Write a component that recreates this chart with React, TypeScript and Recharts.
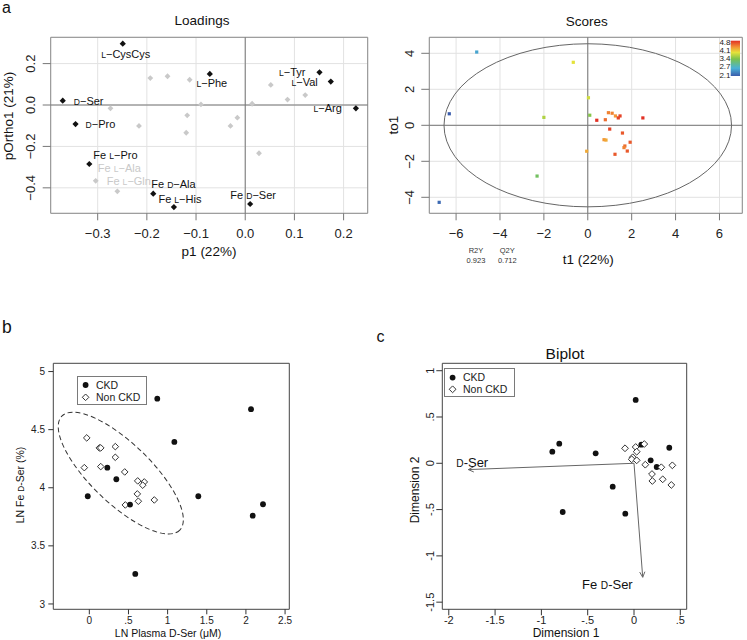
import React from "react";
import {
  ScatterChart,
  Scatter,
  XAxis,
  YAxis,
  CartesianGrid,
  ReferenceLine,
  ReferenceArea,
  ReferenceDot,
  Label,
  Legend,
} from "recharts";

const FONT = '"Liberation Sans", Arial, Helvetica, sans-serif';

// ---------- panel a, loadings ----------
const loadXTicks = [-0.3, -0.2, -0.1, 0, 0.1, 0.2];
const loadYTicks = [-0.4, -0.2, 0, 0.2];

const loadingsKey = [
  { name: "L-CysCys", p1: -0.249, po: 0.296 },
  { name: "L-Phe", p1: -0.072, po: 0.15 },
  { name: "L-Tyr", p1: 0.151, po: 0.158 },
  { name: "L-Val", p1: 0.174, po: 0.113 },
  { name: "L-Arg", p1: 0.225, po: -0.016 },
  { name: "D-Ser", p1: -0.371, po: 0.021 },
  { name: "D-Pro", p1: -0.345, po: -0.092 },
  { name: "Fe L-Pro", p1: -0.317, po: -0.285 },
  { name: "Fe D-Ala", p1: -0.187, po: -0.428 },
  { name: "Fe L-His", p1: -0.145, po: -0.493 },
  { name: "Fe D-Ser", p1: 0.01, po: -0.478 },
];

const loadingsOther = [
  { name: "", p1: -0.193, po: 0.13 },
  { name: "", p1: -0.158, po: 0.139 },
  { name: "", p1: -0.113, po: 0.122 },
  { name: "", p1: 0.052, po: 0.097 },
  { name: "", p1: 0.086, po: 0.026 },
  { name: "", p1: 0.122, po: 0.048 },
  { name: "", p1: 0.014, po: 0.006 },
  { name: "", p1: -0.09, po: 0.003 },
  { name: "", p1: -0.274, po: -0.016 },
  { name: "", p1: -0.118, po: -0.05 },
  { name: "", p1: -0.216, po: -0.101 },
  { name: "", p1: -0.12, po: -0.134 },
  { name: "", p1: -0.016, po: -0.061 },
  { name: "", p1: -0.03, po: -0.101 },
  { name: "", p1: 0.028, po: -0.233 },
  { name: "Fe L-Gln", p1: -0.304, po: -0.366 },
  { name: "Fe L-Ala", p1: -0.26, po: -0.417 },
];

// ---------- panel a, scores ----------
const scoreXTicks = [-6, -4, -2, 0, 2, 4, 6];
const scoreYTicks = [-4, -2, 0, 2, 4];
const colorbarTicks = [4.8, 4.1, 3.4, 2.7, 2.1];
const modelStats = [
  { label: "R2Y", value: "0.923" },
  { label: "Q2Y", value: "0.712" },
];
const scoreEllipse = { a: 6.55, b: 4.53 };

const scores = [
  { t1: -5.06, to1: 4.07, resp: 2.6 },
  { t1: -0.66, to1: 3.5, resp: 3.9 },
  { t1: -6.31, to1: 0.64, resp: 2.1 },
  { t1: -6.77, to1: -4.28, resp: 2.2 },
  { t1: -2.0, to1: 0.44, resp: 3.65 },
  { t1: -2.31, to1: -2.82, resp: 3.3 },
  { t1: 0.03, to1: 1.53, resp: 3.8 },
  { t1: 0.09, to1: 0.56, resp: 3.45 },
  { t1: -0.05, to1: -1.44, resp: 4.2 },
  { t1: 0.41, to1: 0.28, resp: 4.8 },
  { t1: 0.8, to1: 0.31, resp: 4.5 },
  { t1: 0.94, to1: 0.7, resp: 4.4 },
  { t1: 1.11, to1: 0.67, resp: 4.4 },
  { t1: 1.26, to1: 0.52, resp: 4.3 },
  { t1: 1.39, to1: 0.41, resp: 4.7 },
  { t1: 1.47, to1: 0.52, resp: 4.7 },
  { t1: 2.51, to1: 0.41, resp: 4.8 },
  { t1: 1.0, to1: -0.21, resp: 4.7 },
  { t1: 1.58, to1: -0.43, resp: 4.6 },
  { t1: 0.74, to1: -0.8, resp: 4.3 },
  { t1: 0.83, to1: -0.82, resp: 4.2 },
  { t1: 1.93, to1: -0.94, resp: 4.6 },
  { t1: 1.69, to1: -1.15, resp: 4.5 },
  { t1: 1.65, to1: -1.24, resp: 4.4 },
  { t1: 1.8, to1: -1.43, resp: 4.6 },
  { t1: 1.24, to1: -1.61, resp: 4.6 },
];

// ---------- panel b ----------
const bXTicks = [0, 0.5, 1, 1.5, 2, 2.5];
const bYTicks = [3, 3.5, 4, 4.5, 5];
const groups = ["CKD", "Non CKD"];

const ckdB = [
  { plasma: 0.868, fe: 4.767 },
  { plasma: 2.065, fe: 4.676 },
  { plasma: 1.086, fe: 4.394 },
  { plasma: 0.23, fe: 4.173 },
  { plasma: 0.345, fe: 4.073 },
  { plasma: -0.02, fe: 3.927 },
  { plasma: 0.52, fe: 3.855 },
  { plasma: 1.392, fe: 3.927 },
  { plasma: 2.218, fe: 3.858 },
  { plasma: 2.087, fe: 3.76 },
  { plasma: 0.587, fe: 3.258 },
];

const nonCkdB = [
  { plasma: -0.033, fe: 4.429 },
  { plasma: 0.128, fe: 4.343 },
  { plasma: 0.146, fe: 4.343 },
  { plasma: 0.332, fe: 4.354 },
  { plasma: 0.332, fe: 4.262 },
  { plasma: -0.064, fe: 4.173 },
  { plasma: 0.146, fe: 4.182 },
  { plasma: 0.452, fe: 4.136 },
  { plasma: 0.618, fe: 4.059 },
  { plasma: 0.702, fe: 4.05 },
  { plasma: 0.682, fe: 4.022 },
  { plasma: 0.613, fe: 3.947 },
  { plasma: 0.626, fe: 3.884 },
  { plasma: 0.83, fe: 3.895 },
  { plasma: 0.46, fe: 3.852 },
];

const bEllipseCenter = { plasma: 0.402, fe: 4.126 };

// ---------- panel c ----------
const cXTicks = [-2, -1.5, -1, -0.5, 0, 0.5];
const cYTicks = [-1.5, -1, -0.5, 0, 0.5, 1];

const ckdC = [
  { d1: 0.018, d2: 0.684 },
  { d1: -0.807, d2: 0.212 },
  { d1: -0.882, d2: 0.125 },
  { d1: -0.414, d2: 0.108 },
  { d1: 0.079, d2: 0.201 },
  { d1: 0.381, d2: 0.168 },
  { d1: 0.18, d2: 0.032 },
  { d1: 0.245, d2: -0.04 },
  { d1: -0.23, d2: -0.253 },
  { d1: -0.77, d2: -0.526 },
  { d1: -0.094, d2: -0.544 },
];

const nonCkdC = [
  { d1: -0.097, d2: 0.162 },
  { d1: 0.018, d2: 0.176 },
  { d1: 0.111, d2: 0.208 },
  { d1: 0.029, d2: 0.125 },
  { d1: -0.014, d2: 0.065 },
  { d1: -0.025, d2: 0.043 },
  { d1: 0.029, d2: 0.032 },
  { d1: 0.122, d2: -0.015 },
  { d1: 0.295, d2: -0.043 },
  { d1: 0.414, d2: -0.022 },
  { d1: 0.194, d2: -0.116 },
  { d1: 0.198, d2: -0.191 },
  { d1: 0.31, d2: -0.173 },
  { d1: 0.403, d2: -0.234 },
];

const biplotArrows = [
  { name: "D-Ser", d1: -1.789, d2: -0.068 },
  { name: "Fe D-Ser", d1: 0.094, d2: -1.231 },
];

// ---------- layout / style ----------
type Anchor = "start" | "middle" | "end";
const loadLabelPlace: Record<string, { anchor: Anchor; dx: number; dy: number }> = {
  "L-CysCys": { anchor: "middle", dx: 3, dy: 10 },
  "L-Phe": { anchor: "middle", dx: 2, dy: 9 },
  "L-Tyr": { anchor: "end", dx: -14, dy: 0 },
  "L-Val": { anchor: "end", dx: -13, dy: 0 },
  "L-Arg": { anchor: "end", dx: -14, dy: 0 },
  "D-Ser": { anchor: "start", dx: 11, dy: 0 },
  "D-Pro": { anchor: "start", dx: 10, dy: 0 },
  "Fe L-Pro": { anchor: "start", dx: 4, dy: -9 },
  "Fe D-Ala": { anchor: "start", dx: -2, dy: -10 },
  "Fe L-His": { anchor: "middle", dx: 6, dy: -8 },
  "Fe D-Ser": { anchor: "middle", dx: 3, dy: -9 },
  "Fe L-Gln": { anchor: "start", dx: 11, dy: 0 },
  "Fe L-Ala": { anchor: "middle", dx: 2, dy: -23 },
};
const arrowLabelPlace: Record<string, { anchor: Anchor; dx: number; dy: number }> = {
  "D-Ser": { anchor: "start", dx: -12, dy: -7.5 },
  "Fe D-Ser": { anchor: "end", dx: -10, dy: 7.5 },
};

const loadXDom: [number, number] = [-0.3955, 0.249];
const loadYDom: [number, number] = [-0.523, 0.327];
const scoreXDom: [number, number] = [-7.22, 7.04];
const scoreYDom: [number, number] = [-4.889, 4.889];
const bXDom: [number, number] = [-0.46, 2.554];
const bYDom: [number, number] = [2.954, 5.071];
const cXDom: [number, number] = [-2.07, 0.569];
const cYDom: [number, number] = [-1.577, 1.08];

const cbarStops = [
  { v: 2.1, c: [58, 92, 172] },
  { v: 2.7, c: [74, 178, 214] },
  { v: 3.4, c: [122, 194, 76] },
  { v: 3.9, c: [228, 226, 58] },
  { v: 4.3, c: [243, 150, 54] },
  { v: 4.8, c: [226, 48, 36] },
];

function colorFor(v: number) {
  const s = cbarStops;
  if (v <= s[0].v) return `rgb(${s[0].c.join(",")})`;
  for (let i = 1; i < s.length; i++) {
    if (v <= s[i].v) {
      const t = (v - s[i - 1].v) / (s[i].v - s[i - 1].v);
      const c = s[i].c.map((ch, k) => Math.round(s[i - 1].c[k] + (ch - s[i - 1].c[k]) * t));
      return `rgb(${c.join(",")})`;
    }
  }
  return `rgb(${s[s.length - 1].c.join(",")})`;
}

const rNum = (d: number) => (v: number) => (v < 0 ? "\u2212" : "") + Math.abs(v).toFixed(d);
const stataNum = (v: number) => {
  const a = Math.abs(v);
  const s = a > 0 && a < 1 ? String(a).replace(/^0/, "") : String(a);
  return (v < 0 ? "-" : "") + s;
};

function NameText({ text, fs, minus }: { text: string; fs: number; minus?: boolean }) {
  const fix = (s: string) => (minus ? s.replace(/-/g, "\u2212") : s);
  const m = text.match(/^(.*?)\b([LD])(-.*)$/);
  if (!m) return <>{fix(text)}</>;
  return (
    <>
      {m[1]}
      <tspan fontSize={fs * 0.78}>{m[2]}</tspan>
      {fix(m[3])}
    </>
  );
}

const diamond = (cx: number, cy: number, s: number) =>
  `M${cx},${cy - s}L${cx + s},${cy}L${cx},${cy + s}L${cx - s},${cy}Z`;

const xTick = (fmt: (v: number) => string, fs: number, dy: number) => (p: any) => (
  <text x={p.x} y={p.y + dy} textAnchor="middle" fontSize={fs} fill="#222" fontFamily={FONT}>
    {fmt(p.payload.value)}
  </text>
);
const yTickRot = (fmt: (v: number) => string, fs: number, dx: number) => (p: any) => {
  const x = p.x + dx;
  return (
    <text x={x} y={p.y} transform={`rotate(-90 ${x} ${p.y})`} textAnchor="middle" fontSize={fs} fill="#222" fontFamily={FONT}>
      {fmt(p.payload.value)}
    </text>
  );
};
const yTickFlat = (fmt: (v: number) => string, fs: number, dx: number) => (p: any) => (
  <text x={p.x + dx} y={p.y + fs * 0.36} textAnchor="end" fontSize={fs} fill="#222" fontFamily={FONT}>
    {fmt(p.payload.value)}
  </text>
);

const rotText = (x: number, y: number, fs: number, children: React.ReactNode) => (
  <text x={x} y={y} transform={`rotate(-90 ${x} ${y})`} textAnchor="middle" fontSize={fs} fill="#111" fontFamily={FONT}>
    {children}
  </text>
);

function loadingShape(dark: boolean) {
  const col = dark ? "#111" : "#c9c9c9";
  return (p: any) => {
    const { cx, cy, payload } = p;
    const place = payload.name ? loadLabelPlace[payload.name] : undefined;
    return (
      <g>
        <path d={diamond(cx, cy, dark ? 3.1 : 2.9)} fill={col} />
        {place && (
          <text x={cx + place.dx} y={cy + place.dy + 4} textAnchor={place.anchor} fontSize={11} fill={col} fontFamily={FONT}>
            <NameText text={payload.name} fs={11} minus />
          </text>
        )}
      </g>
    );
  };
}

function LoadingsChart() {
  return (
    <ScatterChart width={375} height={268} margin={{ top: 37.3, right: 7.3, bottom: 9.7, left: 0 }}>
      <CartesianGrid stroke="#e2e2e2" />
      <XAxis
        type="number"
        dataKey="p1"
        domain={loadXDom}
        ticks={loadXTicks}
        allowDataOverflow
        interval={0}
        height={45}
        axisLine={false}
        tickSize={7}
        tickLine={{ stroke: "#777" }}
        tick={xTick(rNum(1), 13, 15.7)}
      >
        <Label
          content={() => (
            <g fontFamily={FONT} fill="#111">
              <text x={202} y={25} textAnchor="middle" fontSize={13.5}>Loadings</text>
              <text x={209} y={256} textAnchor="middle" fontSize={13.5}>p1 (22%)</text>
            </g>
          )}
        />
      </XAxis>
      <YAxis
        type="number"
        dataKey="po"
        domain={loadYDom}
        ticks={loadYTicks}
        allowDataOverflow
        interval={0}
        width={50.7}
        axisLine={false}
        tickSize={8}
        tickLine={{ stroke: "#777" }}
        tick={yTickRot(rNum(1), 13, -6)}
      >
        <Label content={() => rotText(13, 116, 13.5, "pOrtho1 (21%)")} />
      </YAxis>
      <ReferenceLine x={0} stroke="#777" />
      <ReferenceLine y={0} stroke="#777" />
      <ReferenceArea x1={loadXDom[0]} x2={loadXDom[1]} y1={loadYDom[0]} y2={loadYDom[1]} fill="none" stroke="#8c8c8c" ifOverflow="visible" />
      <Scatter data={loadingsOther} shape={loadingShape(false)} isAnimationActive={false} />
      <Scatter data={loadingsKey} shape={loadingShape(true)} isAnimationActive={false} />
    </ScatterChart>
  );
}

function Colorbar() {
  const top = 2.7;
  const h = 35.3;
  return (
    <svg width={28} height={42} style={{ display: "block" }}>
      <defs>
        <linearGradient id="cbar" x1="0" y1="0" x2="0" y2="1">
          {[...cbarStops].reverse().map((s) => (
            <stop key={s.v} offset={`${((4.8 - s.v) / (4.8 - 2.1)) * 100}%`} stopColor={`rgb(${s.c.join(",")})`} />
          ))}
        </linearGradient>
      </defs>
      <rect x={15.7} y={top} width={9.3} height={h} fill="url(#cbar)" />
      {colorbarTicks.map((v, i) => (
        <text key={v} x={15.5} y={3.7 + i * 8.25 + 2.9} textAnchor="end" fontSize={8} fill="#222" fontFamily={FONT}>
          {v.toFixed(1)}
        </text>
      ))}
    </svg>
  );
}

function ScoresChart() {
  const plotW = 372 - 54.3 - 4.7;
  const plotH = 268 - 37.3 - 9.7 - 45;
  const pxX = plotW / (scoreXDom[1] - scoreXDom[0]);
  const pxY = plotH / (scoreYDom[1] - scoreYDom[0]);
  return (
    <ScatterChart width={372} height={268} margin={{ top: 37.3, right: 4.7, bottom: 9.7, left: 0 }}>
      <CartesianGrid stroke="#e2e2e2" />
      <XAxis
        type="number"
        dataKey="t1"
        domain={scoreXDom}
        ticks={scoreXTicks}
        allowDataOverflow
        interval={0}
        height={45}
        axisLine={false}
        tickSize={7}
        tickLine={{ stroke: "#777" }}
        tick={xTick(rNum(0), 13, 15.7)}
      >
        <Label
          content={() => (
            <g fontFamily={FONT}>
              <text x={211.7} y={25.5} textAnchor="middle" fontSize={13.5} fill="#111">Scores</text>
              <text x={213.3} y={264} textAnchor="middle" fontSize={13.5} fill="#111">t1 (22%)</text>
              {modelStats.map((m, i) => (
                <g key={m.label}>
                  <text x={101 + i * 31.3} y={252.7} textAnchor="middle" fontSize={7.5} fill="#333">{m.label}</text>
                  <text x={101 + i * 31.3} y={263.4} textAnchor="middle" fontSize={7.5} fill="#333">{m.value}</text>
                </g>
              ))}
            </g>
          )}
        />
      </XAxis>
      <YAxis
        type="number"
        dataKey="to1"
        domain={scoreYDom}
        ticks={scoreYTicks}
        allowDataOverflow
        interval={0}
        width={54.3}
        axisLine={false}
        tickSize={8}
        tickLine={{ stroke: "#777" }}
        tick={yTickRot(rNum(0), 13, -5.6)}
      >
        <Label content={() => rotText(22.7, 125, 13.5, "to1")} />
      </YAxis>
      <ReferenceLine x={0} stroke="#777" />
      <ReferenceLine y={0} stroke="#777" />
      <ReferenceArea x1={scoreXDom[0]} x2={scoreXDom[1]} y1={scoreYDom[0]} y2={scoreYDom[1]} fill="none" stroke="#8c8c8c" ifOverflow="visible" />
      <ReferenceDot
        x={0}
        y={0}
        r={1}
        shape={(p: any) => (
          <ellipse cx={p.cx} cy={p.cy} rx={scoreEllipse.a * pxX} ry={scoreEllipse.b * pxY} fill="none" stroke="#666" strokeWidth={1} />
        )}
      />
      <Scatter
        data={scores}
        isAnimationActive={false}
        shape={(p: any) => (
          <rect x={p.cx - 1.6} y={p.cy - 1.6} width={3.2} height={3.2} fill={colorFor(p.payload.resp)} />
        )}
      />
      <Legend
        layout="horizontal"
        verticalAlign="middle"
        align="center"
        wrapperStyle={{ left: 340, top: 38, width: 28, height: 42 }}
        content={() => <Colorbar />}
      />
    </ScatterChart>
  );
}

function GroupLegend({ w, h, fs, r, s, rowY }: { w: number; h: number; fs: number; r: number; s: number; rowY: number[] }) {
  return (
    <svg width={w} height={h} style={{ display: "block" }}>
      <rect x={0.5} y={0.5} width={w - 1} height={h - 1} fill="#fff" stroke="#7a7a7a" />
      <circle cx={8.6} cy={rowY[0]} r={r} fill="#111" />
      <path d={diamond(8.6, rowY[1], s)} fill="#fff" stroke="#333" />
      {groups.map((g, i) => (
        <text key={g} x={19} y={rowY[i] + fs * 0.36} fontSize={fs} fill="#222" fontFamily={FONT}>
          {g}
        </text>
      ))}
    </svg>
  );
}

const dotShape = (r: number) => (p: any) => <circle cx={p.cx} cy={p.cy} r={r} fill="#111" />;
const openDiamond = (s: number) => (p: any) => <path d={diamond(p.cx, p.cy, s)} fill="#fff" stroke="#333" strokeWidth={1} />;

function PanelB() {
  return (
    <ScatterChart width={375} height={340} margin={{ top: 63.3, right: 85.7, bottom: 0, left: 0 }}>
      <XAxis
        type="number"
        dataKey="plasma"
        domain={bXDom}
        ticks={bXTicks}
        allowDataOverflow
        interval={0}
        height={30.7}
        axisLine={false}
        tickSize={5}
        tickLine={{ stroke: "#333" }}
        tick={xTick(stataNum, 10, 7.3)}
      >
        <Label
          content={() => (
            <text x={168} y={337} textAnchor="middle" fontSize={10.5} fill="#111" fontFamily={FONT}>
              LN Plasma D-Ser (μM)
            </text>
          )}
        />
      </XAxis>
      <YAxis
        type="number"
        dataKey="fe"
        domain={bYDom}
        ticks={bYTicks}
        allowDataOverflow
        interval={0}
        width={53.3}
        axisLine={false}
        tickSize={5}
        tickLine={{ stroke: "#333" }}
        tick={yTickFlat(stataNum, 10, -1.3)}
      >
        <Label content={() => rotText(23.8, 185, 10.5, <NameText text="LN Fe D-Ser (%)" fs={10.5} />)} />
      </YAxis>
      <ReferenceArea x1={bXDom[0]} x2={bXDom[1]} y1={bYDom[0]} y2={bYDom[1]} fill="none" stroke="#444" ifOverflow="visible" />
      <ReferenceDot
        x={bEllipseCenter.plasma}
        y={bEllipseCenter.fe}
        r={1}
        shape={(p: any) => (
          <ellipse
            cx={p.cx}
            cy={p.cy}
            rx={82}
            ry={30}
            transform={`rotate(44 ${p.cx} ${p.cy})`}
            fill="none"
            stroke="#333"
            strokeWidth={1}
            strokeDasharray="5 3"
          />
        )}
      />
      <Scatter data={nonCkdB} shape={openDiamond(3.3)} isAnimationActive={false} />
      <Scatter data={ckdB} shape={dotShape(2.9)} isAnimationActive={false} />
      <Legend
        layout="horizontal"
        verticalAlign="middle"
        align="center"
        wrapperStyle={{ left: 77.3, top: 76, width: 70, height: 29 }}
        content={() => <GroupLegend w={70} h={29} fs={10.5} r={2.9} s={3.3} rowY={[9, 21.3]} />}
      />
    </ScatterChart>
  );
}

function arrowShape(name: string) {
  return (p: any) => {
    const { x1, y1, x2, y2 } = p;
    const ang = Math.atan2(y2 - y1, x2 - x1);
    const L = 6;
    const h = 0.45;
    const place = arrowLabelPlace[name];
    const pt = (a: number) => `${x2 - L * Math.cos(ang + a)},${y2 - L * Math.sin(ang + a)}`;
    return (
      <g>
        <line x1={x1} y1={y1} x2={x2} y2={y2} stroke="#666" strokeWidth={1} />
        <polyline points={`${pt(-h)} ${x2},${y2} ${pt(h)}`} fill="none" stroke="#666" strokeWidth={1} />
        <text x={x2 + place.dx} y={y2 + place.dy + 4.6} textAnchor={place.anchor} fontSize={13} fill="#111" fontFamily={FONT}>
          <NameText text={name} fs={13} />
        </text>
      </g>
    );
  };
}

function PanelC() {
  return (
    <ScatterChart width={372} height={340} margin={{ top: 63.3, right: 60.3, bottom: 0, left: 0 }}>
      <XAxis
        type="number"
        dataKey="d1"
        domain={cXDom}
        ticks={cXTicks}
        allowDataOverflow
        interval={0}
        height={30.7}
        axisLine={false}
        tickSize={6}
        tickLine={{ stroke: "#333" }}
        tick={xTick(stataNum, 11, 6.7)}
      >
        <Label
          content={() => (
            <g fontFamily={FONT} fill="#111">
              <text x={190} y={59} textAnchor="middle" fontSize={15.5}>Biplot</text>
              <text x={191} y={336.5} textAnchor="middle" fontSize={12}>Dimension 1</text>
            </g>
          )}
        />
      </XAxis>
      <YAxis
        type="number"
        dataKey="d2"
        domain={cYDom}
        ticks={cYTicks}
        allowDataOverflow
        interval={0}
        width={67.3}
        axisLine={false}
        tickSize={6}
        tickLine={{ stroke: "#333" }}
        tick={yTickRot(stataNum, 11, -0.5)}
      >
        <Label content={() => rotText(44.3, 190, 12, "Dimension 2")} />
      </YAxis>
      <ReferenceArea x1={cXDom[0]} x2={cXDom[1]} y1={cYDom[0]} y2={cYDom[1]} fill="none" stroke="#444" ifOverflow="visible" />
      <Scatter data={ckdC} shape={dotShape(2.9)} isAnimationActive={false} />
      <Scatter data={nonCkdC} shape={openDiamond(3.4)} isAnimationActive={false} />
      {biplotArrows.map((a) => (
        <ReferenceLine
          key={a.name}
          segment={[
            { x: 0, y: 0 },
            { x: a.d1, y: a.d2 },
          ]}
          ifOverflow="visible"
          shape={arrowShape(a.name)}
        />
      ))}
      <Legend
        layout="horizontal"
        verticalAlign="middle"
        align="center"
        wrapperStyle={{ left: 69, top: 67.7, width: 71, height: 29 }}
        content={() => <GroupLegend w={71} h={29} fs={10.5} r={2.9} s={3.4} rowY={[9.6, 21.3]} />}
      />
    </ScatterChart>
  );
}

export default function App() {
  return (
    <div style={{ position: "absolute", left: 0, top: 0, width: 747, height: 640, background: "#fff", fontFamily: FONT }}>
      <div style={{ position: "absolute", left: 0, top: 0 }}>
        <LoadingsChart />
      </div>
      <div style={{ position: "absolute", left: 375, top: 0 }}>
        <ScoresChart />
      </div>
      <div style={{ position: "absolute", left: 0, top: 300 }}>
        <PanelB />
      </div>
      <div style={{ position: "absolute", left: 375, top: 300 }}>
        <PanelC />
      </div>
      <svg width={747} height={640} style={{ position: "absolute", left: 0, top: 0, pointerEvents: "none" }}>
        <g fontFamily={FONT} fill="#111">
          <text x={2} y={13} fontSize={16}>a</text>
          <text x={2} y={333.3} fontSize={17.5}>b</text>
          <text x={376.5} y={341.7} fontSize={16}>c</text>
        </g>
      </svg>
    </div>
  );
}
